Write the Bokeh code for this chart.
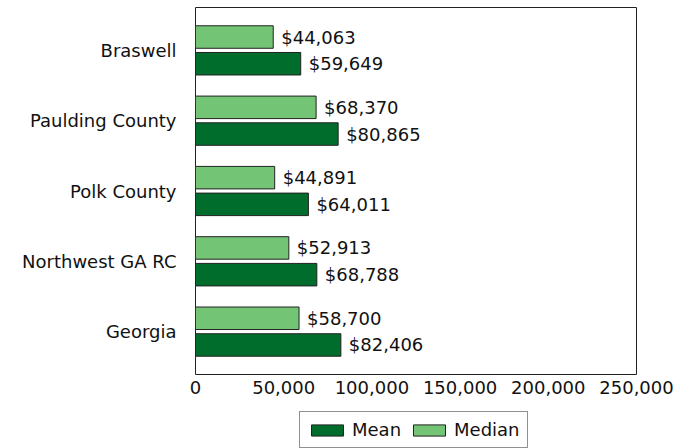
from bokeh.plotting import figure
from bokeh.layouts import column
from bokeh.models import ColumnDataSource, FactorRange, FixedTicker, NumeralTickFormatter, Legend, LegendItem, Range1d
from bokeh.transform import dodge
from bokeh.core.properties import value
from bokeh.embed import file_html
from bokeh.resources import INLINE

areas = ["Braswell", "Paulding County", "Polk County", "Northwest GA RC", "Georgia"]
mean_income = [59649, 80865, 64011, 68788, 82406]
median_income = [44063, 68370, 44891, 52913, 58700]
x_ticks = [0, 50000, 100000, 150000, 200000, 250000]
series_names = ["Mean", "Median"]

FONT = "DejaVu Sans"
FS = "18px"
DARK = "#006d2c"
LIGHT = "#74c476"

src = ColumnDataSource(dict(
    area=areas,
    mean=mean_income,
    median=median_income,
    mean_lbl=["${:,}".format(v) for v in mean_income],
    median_lbl=["${:,}".format(v) for v in median_income],
))

yr = FactorRange(factors=list(reversed(areas)), range_padding=0.044)
p = figure(width=676, height=400, frame_width=441, frame_height=367, y_range=yr,
           x_range=Range1d(0, 250000),
           output_backend="svg", toolbar_location=None,
           min_border_left=195, min_border_right=40, min_border_top=7, min_border_bottom=26)

r_mean = p.hbar(y=dodge("area", -0.19, range=p.y_range), right="mean", left=0, height=0.32,
                source=src, fill_color=DARK, line_color="#222222", line_width=1)
r_med = p.hbar(y=dodge("area", 0.19, range=p.y_range), right="median", left=0, height=0.32,
               source=src, fill_color=LIGHT, line_color="#222222", line_width=1)

p.text(x="mean", y=dodge("area", -0.19, range=p.y_range), text="mean_lbl", source=src,
       x_offset=8, text_baseline="middle", text_font=value(FONT), text_font_size=FS,
       text_color="#111111")
p.text(x="median", y=dodge("area", 0.19, range=p.y_range), text="median_lbl", source=src,
       x_offset=8, text_baseline="middle", text_font=value(FONT), text_font_size=FS,
       text_color="#111111")

p.xgrid.visible = False
p.ygrid.visible = False
p.outline_line_color = "#222222"
p.outline_line_width = 1

p.xaxis.ticker = FixedTicker(ticks=x_ticks)
p.xaxis.formatter = NumeralTickFormatter(format="0,0")
for ax in (p.xaxis[0], p.yaxis[0]):
    ax.axis_line_color = None
    ax.major_tick_line_color = None
    ax.minor_tick_line_color = None
    ax.major_tick_out = 0
    ax.major_tick_in = 0
    ax.major_label_text_font = FONT
    ax.major_label_text_font_size = FS
    ax.major_label_text_color = "#111111"
p.xaxis.major_label_standoff = 6
p.yaxis.major_label_standoff = 19

# separate strip holding the legend below the chart (frame aligned with the chart's frame)
lg = figure(width=676, height=48, x_range=Range1d(0, 250000),
            y_range=FactorRange(factors=list(reversed(areas))),
            output_backend="svg", toolbar_location=None,
            min_border_left=0, min_border_right=0, min_border_top=0, min_border_bottom=0)
lg.axis.visible = False
lg.grid.visible = False
lg.outline_line_color = None
sw_mean = lg.hbar(y="area", right="mean", left=0, height=0.3, source=src,
                  fill_color=DARK, line_color="#222222", visible=False)
sw_med = lg.hbar(y="area", right="median", left=0, height=0.3, source=src,
                 fill_color=LIGHT, line_color="#222222", visible=False)

legend = Legend(items=[LegendItem(label=series_names[0], renderers=[sw_mean], index=0),
                       LegendItem(label=series_names[1], renderers=[sw_med], index=0)],
                orientation="horizontal", location=(104, 0),
                label_text_font=FONT, label_text_font_size=FS, label_text_color="#111111",
                glyph_width=40, glyph_height=14, label_standoff=5, spacing=8,
                padding=7, margin=0, border_line_color="#222222")
lg.add_layout(legend, "center")

layout = column(p, lg, spacing=0)
open("out.html", "w").write(file_html(layout, INLINE))
